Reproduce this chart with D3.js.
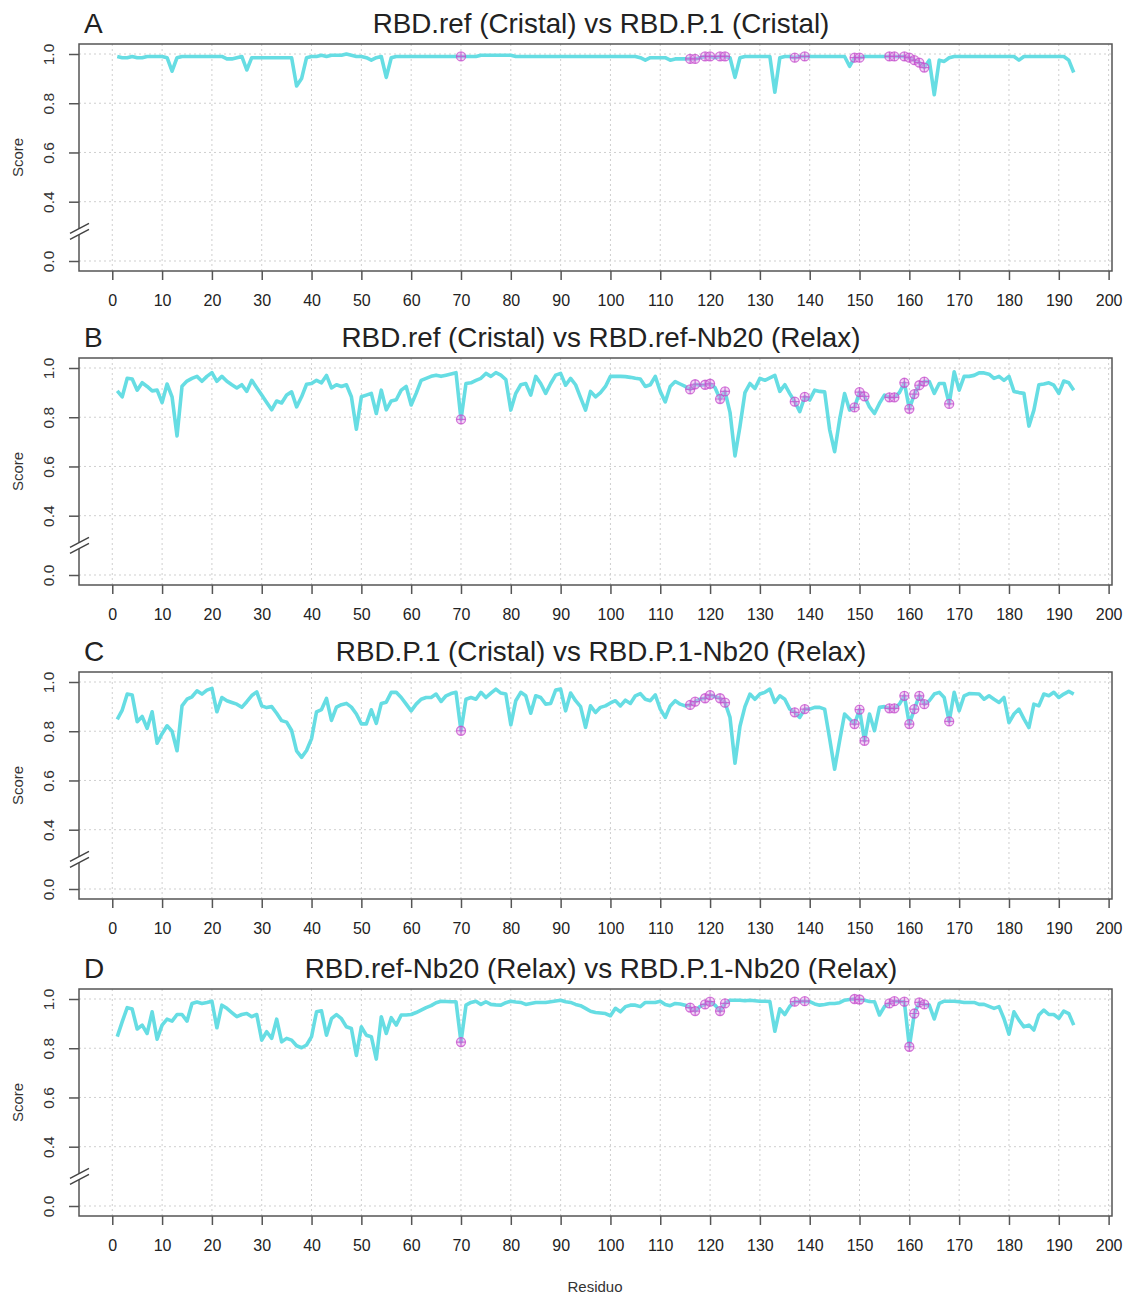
<!DOCTYPE html>
<html>
<head>
<meta charset="utf-8">
<script src="https://cdn.jsdelivr.net/npm/d3@7"></script>
<style>
body { margin: 0; background: #fff; }
svg text { font-family: "Liberation Sans", Arial, sans-serif; fill: #222; }
.grid line { stroke: #cfcfcf; stroke-width: 1; stroke-dasharray: 2,3; }
.frame { fill: none; stroke: #555; stroke-width: 1.5; }
.axis line { stroke: #555; stroke-width: 1.5; }
.axis path { display: none; }
.score-line { fill: none; stroke: #66dde3; stroke-width: 3.6; stroke-linejoin: round; }
.mark circle { fill: #e6a2ea; fill-opacity: 0.45; stroke: #c44ccc; stroke-width: 1.3; stroke-opacity: 0.75; }
.mark path { stroke: #c44ccc; stroke-width: 1.2; stroke-opacity: 0.75; }
</style>
</head>
<body>
<div id="chart"></div>
<script>
// titulos e letras dos paineis
const panelLetters = ["A", "B", "C", "D"];
const titles = [
    "RBD.ref (Cristal) vs RBD.P.1 (Cristal)",
    "RBD.ref (Cristal) vs RBD.ref-Nb20 (Relax)",
    "RBD.P.1 (Cristal) vs RBD.P.1-Nb20 (Relax)",
    "RBD.ref-Nb20 (Relax) vs RBD.P.1-Nb20 (Relax)"
];

const xTicks = d3.range(0, 201, 10);
const yTicks = [0.0, 0.4, 0.6, 0.8, 1.0];

// score por residuo (1..193)
const scoreA = [
    0.99,0.985,0.985,0.99,0.985,0.985,0.99,0.99,0.99,0.99,
    0.985,0.93,0.985,0.99,0.99,0.99,0.99,0.99,0.99,0.99,
    0.99,0.99,0.98,0.98,0.985,0.99,0.935,0.985,0.985,0.985,
    0.985,0.985,0.985,0.985,0.985,0.985,0.87,0.9,0.985,0.99,
    0.99,0.995,0.99,0.995,0.995,0.995,1.0,0.995,0.99,0.99,
    0.985,0.975,0.985,0.99,0.905,0.985,0.99,0.99,0.99,0.99,
    0.99,0.99,0.99,0.99,0.99,0.99,0.99,0.99,0.99,0.99,
    0.99,0.99,0.99,0.995,0.995,0.995,0.995,0.995,0.995,0.995,
    0.99,0.99,0.99,0.99,0.99,0.99,0.99,0.99,0.99,0.99,
    0.99,0.99,0.99,0.99,0.99,0.99,0.99,0.99,0.99,0.99,
    0.99,0.99,0.99,0.99,0.99,0.985,0.975,0.985,0.985,0.985,
    0.985,0.975,0.98,0.98,0.98,0.98,0.98,0.985,0.99,0.99,
    0.985,0.99,0.99,0.985,0.905,0.985,0.99,0.99,0.99,0.99,
    0.99,0.99,0.845,0.985,0.99,0.99,0.985,0.99,0.99,0.99,
    0.99,0.99,0.99,0.99,0.99,0.99,0.99,0.95,0.985,0.985,
    0.99,0.99,0.99,0.99,0.99,0.99,0.99,0.99,0.99,0.985,
    0.975,0.965,0.945,0.975,0.835,0.975,0.97,0.985,0.99,0.99,
    0.99,0.99,0.99,0.99,0.99,0.99,0.99,0.99,0.99,0.99,
    0.99,0.975,0.99,0.99,0.99,0.99,0.99,0.99,0.99,0.99,
    0.99,0.975,0.925
];
const scoreB = [
    0.907,0.883,0.958,0.955,0.91,0.94,0.925,0.907,0.91,0.86,
    0.935,0.883,0.724,0.926,0.947,0.958,0.966,0.946,0.966,0.981,
    0.946,0.966,0.946,0.932,0.919,0.932,0.905,0.95,0.92,0.89,
    0.86,0.83,0.866,0.858,0.89,0.903,0.842,0.883,0.934,0.937,
    0.95,0.94,0.97,0.919,0.932,0.925,0.932,0.883,0.751,0.883,
    0.89,0.897,0.815,0.91,0.83,0.866,0.871,0.91,0.925,0.85,
    0.897,0.95,0.958,0.966,0.971,0.966,0.971,0.976,0.981,0.791,
    0.937,0.94,0.95,0.958,0.978,0.966,0.981,0.971,0.953,0.829,
    0.897,0.932,0.937,0.89,0.966,0.937,0.897,0.937,0.971,0.978,
    0.93,0.958,0.932,0.88,0.829,0.905,0.883,0.9,0.925,0.966,
    0.966,0.966,0.965,0.962,0.958,0.955,0.925,0.932,0.966,0.905,
    0.862,0.925,0.945,0.935,0.925,0.913,0.934,0.93,0.932,0.936,
    0.92,0.874,0.905,0.82,0.643,0.763,0.9,0.937,0.917,0.958,
    0.95,0.96,0.97,0.905,0.932,0.896,0.863,0.823,0.883,0.87,
    0.91,0.905,0.903,0.75,0.66,0.79,0.896,0.829,0.84,0.902,
    0.885,0.842,0.815,0.856,0.89,0.881,0.881,0.9,0.94,0.834,
    0.894,0.93,0.945,0.945,0.897,0.937,0.937,0.854,0.985,0.91,
    0.966,0.966,0.97,0.98,0.98,0.975,0.958,0.966,0.95,0.966,
    0.905,0.9,0.897,0.764,0.829,0.932,0.935,0.94,0.93,0.897,
    0.947,0.94,0.91
];
const scoreC = [
    0.848,0.886,0.951,0.947,0.839,0.86,0.812,0.879,0.751,0.79,
    0.822,0.8,0.721,0.903,0.93,0.94,0.964,0.951,0.967,0.974,
    0.879,0.937,0.924,0.917,0.91,0.897,0.92,0.945,0.96,0.903,
    0.896,0.9,0.873,0.843,0.837,0.803,0.72,0.694,0.722,0.77,
    0.879,0.888,0.933,0.844,0.898,0.908,0.913,0.898,0.87,0.83,
    0.83,0.887,0.832,0.913,0.918,0.958,0.958,0.937,0.91,0.883,
    0.91,0.93,0.937,0.937,0.951,0.921,0.944,0.953,0.958,0.802,
    0.93,0.937,0.93,0.958,0.937,0.955,0.971,0.955,0.951,0.826,
    0.924,0.958,0.944,0.873,0.944,0.937,0.91,0.913,0.967,0.971,
    0.883,0.955,0.924,0.9,0.816,0.903,0.876,0.897,0.903,0.915,
    0.924,0.903,0.926,0.913,0.944,0.953,0.93,0.924,0.948,0.89,
    0.856,0.903,0.924,0.91,0.903,0.907,0.92,0.93,0.934,0.947,
    0.94,0.934,0.916,0.856,0.67,0.82,0.9,0.951,0.93,0.951,
    0.958,0.971,0.917,0.944,0.93,0.89,0.877,0.856,0.89,0.89,
    0.897,0.897,0.89,0.77,0.646,0.761,0.87,0.85,0.829,0.888,
    0.761,0.87,0.802,0.897,0.9,0.893,0.893,0.91,0.944,0.829,
    0.89,0.944,0.91,0.924,0.951,0.958,0.937,0.84,0.958,0.883,
    0.944,0.953,0.952,0.951,0.93,0.944,0.93,0.917,0.937,0.835,
    0.87,0.89,0.85,0.815,0.91,0.903,0.951,0.944,0.958,0.937,
    0.951,0.962,0.951
];
const scoreD = [
    0.847,0.908,0.965,0.959,0.878,0.894,0.86,0.948,0.837,0.894,
    0.918,0.91,0.937,0.937,0.91,0.982,0.988,0.982,0.986,0.991,
    0.883,0.975,0.962,0.945,0.928,0.937,0.941,0.928,0.937,0.833,
    0.867,0.84,0.918,0.826,0.84,0.833,0.81,0.802,0.813,0.847,
    0.948,0.952,0.853,0.92,0.937,0.92,0.887,0.88,0.771,0.887,
    0.853,0.847,0.756,0.928,0.86,0.924,0.894,0.935,0.935,0.937,
    0.945,0.955,0.965,0.973,0.985,0.991,0.99,0.989,0.989,0.825,
    0.975,0.986,0.991,0.978,0.989,0.978,0.976,0.975,0.985,0.991,
    0.988,0.986,0.978,0.982,0.986,0.986,0.986,0.989,0.992,0.995,
    0.989,0.986,0.978,0.973,0.962,0.95,0.945,0.943,0.941,0.932,
    0.962,0.948,0.969,0.975,0.975,0.969,0.986,0.986,0.986,0.991,
    0.978,0.973,0.982,0.98,0.975,0.965,0.951,0.97,0.978,0.989,
    0.975,0.951,0.982,0.995,0.995,0.995,0.993,0.995,0.993,0.991,
    0.991,0.99,0.869,0.96,0.937,0.97,0.989,0.99,0.991,0.989,
    0.98,0.975,0.978,0.982,0.982,0.985,0.995,0.998,1.0,0.998,
    0.995,0.99,0.989,0.935,0.969,0.982,0.991,0.99,0.989,0.806,
    0.941,0.986,0.978,0.975,0.919,0.982,0.991,0.991,0.991,0.989,
    0.986,0.986,0.986,0.978,0.978,0.97,0.962,0.969,0.92,0.857,
    0.948,0.914,0.887,0.894,0.874,0.935,0.955,0.937,0.937,0.921,
    0.951,0.941,0.894
];

// residuos destacados em cada painel
const markA = [70,116,117,119,120,122,123,137,139,149,150,156,157,159,160,161,162,163];
const markB = [70,116,117,119,120,122,123,137,139,149,150,151,156,157,159,160,161,162,163,168];
const markC = [70,116,117,119,120,122,123,137,139,149,150,151,156,157,159,160,161,162,163,168];
const markD = [70,116,117,119,120,122,123,137,139,149,150,156,157,159,160,161,162,163];

const scores = [scoreA, scoreB, scoreC, scoreD];
const marks = [markA, markB, markC, markD];

const width = 1131, height = 1294;
const left = 79, right = 1112;
const panelTops = [44, 358, 672, 989];
const panelH = 227;

const svg = d3.select("#chart").append("svg")
    .attr("width", width)
    .attr("height", height);

// eixo x (residuo), expansao de 4% como no R
const x = d3.scaleLinear().domain([-6.68, 200.68]).range([left, right]);

panelTops.forEach((top, i) => drawPanel(top, i));

// rotulo do eixo x
svg.append("text")
    .attr("x", 595)
    .attr("y", 1292)
    .attr("text-anchor", "middle")
    .style("font-size", "15px")
    .style("fill", "#333")
    .text("Residuo");

function drawPanel(top, i) {
    const bottom = top + panelH;
    // escala y com quebra entre 0.0 e 0.4
    const y = d3.scaleLinear()
        .domain([0, 0.4, 1.0])
        .range([top + 217, top + 157.7, top + 10]);

    const g = svg.append("g");

    // grade pontilhada
    const grid = g.append("g").attr("class", "grid");
    grid.selectAll("line.v").data(xTicks).enter().append("line")
        .attr("x1", d => x(d)).attr("x2", d => x(d))
        .attr("y1", top).attr("y2", bottom);
    grid.selectAll("line.h").data(yTicks).enter().append("line")
        .attr("x1", left).attr("x2", right)
        .attr("y1", d => y(d)).attr("y2", d => y(d));

    // linha do score
    const data = scores[i].map((v, k) => ({ res: k + 1, v: v }));
    const line = d3.line().x(d => x(d.res)).y(d => y(d.v));
    g.append("path")
        .datum(data)
        .attr("class", "score-line")
        .attr("d", line);

    // marcadores (circulo com cruz)
    const m = g.selectAll("g.mark")
        .data(marks[i].map(r => ({ res: r, v: scores[i][r - 1] })))
        .enter().append("g")
        .attr("class", "mark")
        .attr("transform", d => `translate(${x(d.res)},${y(d.v)})`);
    m.append("circle").attr("r", 4.5);
    m.append("path").attr("d", "M-4.5,0H4.5M0,-4.5V4.5");

    // moldura
    g.append("rect")
        .attr("class", "frame")
        .attr("x", left).attr("y", top)
        .attr("width", right - left).attr("height", panelH);

    // eixo x
    const xAxis = g.append("g")
        .attr("class", "axis")
        .attr("transform", `translate(0,${bottom})`)
        .call(d3.axisBottom(x).tickValues(xTicks).tickSize(9).tickPadding(15).tickFormat(d3.format("d")));
    xAxis.selectAll("text").style("font-size", "16px").style("fill", "#222");

    // eixo y, rotulos paralelos ao eixo
    const yAxis = g.append("g")
        .attr("class", "axis")
        .attr("transform", `translate(${left},0)`)
        .call(d3.axisLeft(y).tickValues(yTicks).tickSize(10).tickFormat(d3.format(".1f")));
    yAxis.selectAll("text")
        .attr("x", null)
        .attr("dy", "0.35em")
        .attr("text-anchor", "middle")
        .attr("transform", "translate(-30,0) rotate(-90)")
        .style("font-size", "15.5px")
        .style("fill", "#333");

    // quebra do eixo
    const yb = (y(0) + y(0.4)) / 2;
    g.append("polygon")
        .attr("points", `${left - 9},${yb + 2} ${left + 10},${yb - 8} ${left + 10},${yb - 2} ${left - 9},${yb + 8}`)
        .attr("fill", "#fff");
    g.append("path")
        .attr("d", `M${left - 9},${yb + 2}L${left + 10},${yb - 8}M${left - 9},${yb + 8}L${left + 10},${yb - 2}`)
        .attr("stroke", "#444")
        .attr("stroke-width", 1.5);

    // rotulo "Score"
    g.append("text")
        .attr("transform", `translate(18,${top + panelH / 2}) rotate(-90)`)
        .attr("dy", "0.35em")
        .attr("text-anchor", "middle")
        .style("font-size", "15px")
        .style("fill", "#333")
        .text("Score");

    // titulo e letra
    g.append("text")
        .attr("x", 601)
        .attr("y", top - 11)
        .attr("text-anchor", "middle")
        .style("font-size", "27.8px")
        .text(titles[i]);
    g.append("text")
        .attr("x", 84)
        .attr("y", top - 11)
        .style("font-size", "28px")
        .text(panelLetters[i]);
}
</script>
</body>
</html>
